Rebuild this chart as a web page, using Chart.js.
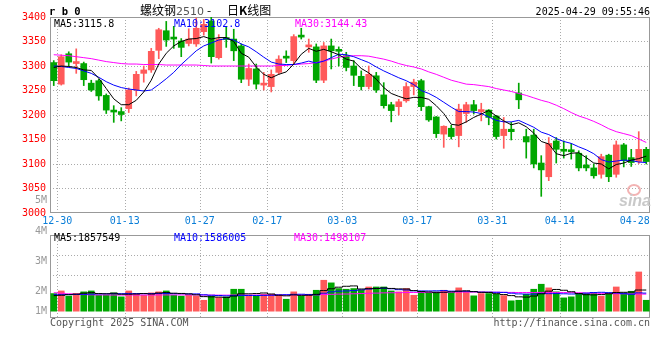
<!DOCTYPE html>
<html>
<head>
<meta charset="utf-8">
<title>螺纹钢2510 日K线图</title>
<script src="https://cdn.jsdelivr.net/npm/chart.js@4.4.1/dist/chart.umd.min.js"></script>
<style>
  body { margin: 0; background: #fff; }
  #wrap { position: relative; width: 660px; height: 360px; overflow: hidden; font-family: "DejaVu Sans Mono", monospace; font-size: 10px; color: #000; }
  canvas { position: absolute; left: 0; top: 0; }
  .t { position: absolute; white-space: pre; line-height: 12px; }
  .cjk { font-family: "Noto Sans CJK SC", sans-serif; font-size: 12px; line-height: 14px; }
  .gray { color: #999; }
</style>
</head>
<body>
<div id="wrap">
  <canvas id="volChart" width="660" height="360"></canvas>
  <canvas id="klineChart" width="660" height="360"></canvas>

  <!-- header -->
  <div class="t" style="left:49px;top:5px;font-weight:bold;font-size:10.5px;">r b 0</div>
  <div class="t cjk" style="left:140px;top:3px;">螺纹钢<span style="font-family:'DejaVu Sans';font-size:11px;color:#555;">2510</span></div>
  <div class="t cjk" style="left:207px;top:3px;">-</div>
  <div class="t cjk" style="left:227px;top:3px;">日<b>K</b>线图</div>
  <div class="t" style="right:10px;top:6px;">2025-04-29 09:55:46</div>

  <!-- price legend -->
  <div class="t" style="left:54px;top:18px;">MA5:3115.8</div>
  <div class="t" style="left:174px;top:18px;color:#0000ff;">MA10:3102.8</div>
  <div class="t" style="left:295px;top:18px;color:#ff00ff;">MA30:3144.43</div>

  <!-- volume legend -->
  <div class="t" style="left:54px;top:232px;">MA5:1857549</div>
  <div class="t" style="left:174px;top:232px;color:#0000ff;">MA10:1586005</div>
  <div class="t" style="left:294px;top:232px;color:#ff00ff;">MA30:1498107</div>

  <!-- volume axis labels -->
  <div class="t gray" style="right:613px;top:194px;">5M</div>
  <div class="t gray" style="right:613px;top:225px;">4M</div>
  <div class="t gray" style="right:613px;top:255px;">3M</div>
  <div class="t gray" style="right:613px;top:285px;">2M</div>
  <div class="t gray" style="right:613px;top:305px;">1M</div>

  <!-- footer -->
  <div class="t" style="left:50px;top:317px;color:#555;">Copyright 2025 SINA.COM</div>
  <div class="t" style="right:10px;top:317px;color:#555;">http://finance.sina.com.cn</div>

  <!-- sina watermark -->
  <div style="position:absolute;left:627px;top:184px;width:10px;height:8px;border:2px solid #f3b3b3;border-radius:50%;"></div>
  <div class="t" style="left:619px;top:193px;font-family:'Liberation Sans';font-style:italic;font-weight:bold;font-size:16px;line-height:16px;color:#c9c9c9;">sina</div>
</div>

<script>
// trading days on the chart
const dates = ['12-27','12-30','12-31','01-02','01-03','01-06','01-07','01-08','01-09','01-10',
    '01-13','01-14','01-15','01-16','01-17','01-20','01-21','01-22','01-23','01-24',
    '01-27','02-05','02-06','02-07','02-10','02-11','02-12','02-13','02-14','02-17',
    '02-18','02-19','02-20','02-21','02-24','02-25','02-26','02-27','02-28','03-03',
    '03-04','03-05','03-06','03-07','03-10','03-11','03-12','03-13','03-14','03-17',
    '03-18','03-19','03-20','03-21','03-24','03-25','03-26','03-27','03-28','03-31',
    '04-01','04-02','04-03','04-07','04-08','04-09','04-10','04-11','04-14','04-15',
    '04-16','04-17','04-18','04-21','04-22','04-23','04-24','04-25','04-28','04-29'];

// dates that get a label on the x axis, and the ones that get a grid line
const labelDates = ['12-30','01-13','01-27','02-17','03-03','03-17','03-31','04-14','04-28'];
const gridDates = ['12-30','01-13','01-27','02-17','03-03','03-17','03-31','04-14'];

// daily candles
const opens = [3307,3263,3325,3305,3305,3265,3270,3240,3208,3207,
    3213,3251,3285,3292,3332,3372,3357,3351,3346,3345,
    3370,3392,3317,3356,3355,3341,3273,3294,3261,3258,
    3287,3318,3311,3361,3339,3339,3271,3341,3332,3321,
    3300,3279,3258,3280,3241,3221,3217,3229,3258,3270,
    3217,3196,3161,3173,3158,3203,3221,3207,3210,3198,
    3158,3171,3245,3156,3159,3102,3074,3147,3130,3128,
    3122,3098,3092,3079,3118,3079,3139,3113,3105,3130];
const highs = [3311,3323,3329,3335,3308,3271,3273,3243,3219,3215,
    3255,3289,3300,3336,3377,3391,3381,3356,3376,3398,
    3395,3400,3364,3379,3375,3345,3304,3304,3287,3292,
    3321,3331,3364,3377,3355,3345,3348,3355,3339,3328,
    3311,3290,3300,3287,3266,3226,3232,3266,3273,3273,
    3218,3197,3178,3179,3222,3226,3230,3224,3211,3199,
    3195,3185,3265,3171,3171,3117,3154,3154,3147,3142,
    3127,3117,3100,3120,3120,3147,3142,3130,3166,3134];
const lows = [3260,3261,3300,3285,3260,3248,3230,3203,3185,3188,
    3205,3239,3267,3287,3315,3340,3336,3319,3341,3340,
    3363,3306,3314,3338,3311,3266,3260,3253,3251,3247,
    3283,3307,3304,3355,3328,3266,3266,3294,3300,3290,
    3260,3251,3253,3246,3214,3186,3200,3226,3241,3209,
    3187,3154,3134,3151,3135,3185,3202,3188,3180,3151,
    3132,3149,3213,3112,3092,3034,3066,3102,3112,3110,
    3086,3086,3071,3071,3064,3073,3094,3095,3101,3100];
const closes = [3270,3319,3308,3307,3272,3251,3239,3210,3206,3201,
    3251,3283,3292,3330,3374,3353,3355,3338,3355,3377,
    3385,3319,3355,3354,3331,3273,3295,3263,3262,3283,
    3314,3316,3360,3359,3341,3271,3341,3331,3330,3297,
    3281,3258,3283,3251,3219,3209,3227,3258,3267,3217,
    3190,3162,3177,3156,3212,3221,3209,3211,3195,3156,
    3171,3166,3231,3145,3100,3088,3142,3130,3126,3125,
    3092,3092,3076,3115,3074,3139,3107,3103,3130,3105];

// moving averages of the close
const ma5 = [3297,3300,3299,3297,3292,3291,3275,3254,3233,3221,
    3221,3230,3247,3271,3304,3326,3341,3350,3355,3356,
    3360,3355,3358,3358,3350,3326,3318,3298,3283,3276,
    3283,3288,3304,3324,3336,3330,3334,3329,3323,3314,
    3310,3295,3286,3273,3256,3244,3238,3233,3236,3236,
    3232,3219,3203,3181,3179,3186,3195,3202,3209,3198,
    3188,3180,3184,3176,3163,3146,3141,3121,3117,3122,
    3123,3113,3102,3100,3090,3099,3102,3108,3111,3116];
const ma10 = [3300,3299,3297,3295,3290,3285,3277,3268,3261,3256,
    3253,3251,3249,3251,3262,3274,3287,3303,3317,3331,
    3341,3347,3353,3356,3353,3345,3339,3329,3318,3308,
    3304,3303,3303,3306,3310,3306,3310,3317,3324,3323,
    3319,3313,3307,3298,3290,3283,3276,3270,3262,3250,
    3244,3236,3226,3216,3207,3207,3206,3203,3196,3189,
    3186,3186,3189,3182,3175,3165,3160,3152,3146,3142,
    3135,3129,3121,3109,3104,3106,3108,3107,3104,3103];
const ma30 = [3323,3322,3321,3319,3317,3315,3312,3309,3307,3305,
    3304,3304,3303,3303,3303,3302,3302,3302,3302,3302,
    3301,3300,3300,3300,3300,3300,3300,3300,3300,3300,
    3301,3301,3303,3304,3305,3307,3310,3314,3318,3320,
    3321,3321,3320,3317,3314,3310,3305,3301,3298,3294,
    3288,3283,3277,3271,3267,3263,3262,3260,3258,3254,
    3251,3248,3244,3240,3235,3230,3226,3220,3213,3205,
    3198,3193,3187,3180,3172,3166,3162,3158,3151,3144];

// volume in millions of lots
const volumes = [1.55,1.78,1.32,1.55,1.70,1.78,1.40,1.40,1.61,1.26,
    1.78,1.49,1.40,1.61,1.70,1.78,1.40,1.32,1.40,1.32,
    0.96,1.32,1.20,1.26,1.93,1.93,1.32,1.32,1.49,1.49,
    1.40,1.05,1.70,1.32,1.49,1.84,2.72,2.49,1.99,1.93,
    1.99,1.84,2.13,2.13,2.13,1.78,1.70,1.99,1.40,1.75,
    1.61,1.70,1.84,1.61,2.05,1.75,1.35,1.55,1.55,1.49,
    1.37,0.91,0.96,1.49,1.93,2.37,2.05,1.70,1.17,1.26,
    1.55,1.55,1.61,1.32,1.61,2.13,1.61,1.75,3.45,0.96];
const volMa5 = [1.37,1.40,1.45,1.50,1.58,1.63,1.55,1.53,1.58,1.49,
    1.49,1.51,1.55,1.51,1.60,1.64,1.58,1.56,1.52,1.44,
    1.28,1.26,1.24,1.21,1.33,1.53,1.53,1.55,1.60,1.51,
    1.40,1.35,1.43,1.39,1.40,1.48,1.81,1.97,2.11,2.19,
    2.22,1.95,1.98,2.00,2.04,2.00,1.96,1.95,1.81,1.72,
    1.69,1.63,1.66,1.70,1.76,1.79,1.72,1.66,1.65,1.54,
    1.46,1.37,1.26,1.24,1.33,1.53,1.76,1.91,1.84,1.71,
    1.55,1.45,1.43,1.46,1.53,1.64,1.66,1.68,1.86,1.86];
const volMa10 = [1.45,1.45,1.46,1.47,1.48,1.50,1.52,1.53,1.54,1.54,
    1.56,1.55,1.54,1.55,1.55,1.56,1.54,1.54,1.52,1.52,
    1.44,1.40,1.38,1.35,1.37,1.39,1.38,1.38,1.39,1.40,
    1.44,1.45,1.48,1.49,1.46,1.45,1.58,1.70,1.76,1.78,
    1.81,1.88,1.95,2.00,2.02,1.97,1.89,1.86,1.79,1.78,
    1.78,1.79,1.81,1.76,1.75,1.75,1.72,1.67,1.67,1.66,
    1.65,1.58,1.52,1.50,1.50,1.56,1.54,1.55,1.53,1.51,
    1.53,1.59,1.64,1.66,1.63,1.60,1.54,1.49,1.61,1.59];
const volMa30 = [1.62,1.58,1.53,1.49,1.46,1.44,1.43,1.43,1.42,1.42,
    1.42,1.42,1.42,1.42,1.43,1.43,1.43,1.43,1.43,1.43,
    1.42,1.42,1.41,1.41,1.42,1.42,1.42,1.42,1.42,1.42,
    1.42,1.42,1.43,1.43,1.43,1.44,1.46,1.48,1.50,1.51,
    1.53,1.55,1.57,1.59,1.61,1.62,1.63,1.64,1.64,1.65,
    1.66,1.66,1.67,1.67,1.68,1.68,1.68,1.68,1.67,1.67,
    1.66,1.65,1.64,1.64,1.64,1.65,1.65,1.65,1.64,1.63,
    1.62,1.60,1.58,1.57,1.55,1.54,1.53,1.52,1.51,1.50];

// axis ranges and tick values
const priceMin = 3000;
const priceMax = 3400;
const priceStep = 50;
const volMin = -0.6;
const volMax = 6.7;
const volGridTicks = [3.18, 4.94];

const upColor = '#ff5a5a';
const downColor = '#00a600';
const gridColor = '#aaaaaa';
const monoFont = { family: 'DejaVu Sans Mono', size: 10 };

// red when the day closed up, green when it closed down
const candleColors = dates.map((d, i) => closes[i] >= opens[i] ? upColor : downColor);

// draws the grey box round a plot area
const framePlugin = {
    id: 'frame',
    beforeDatasetsDraw(chart) {
        const a = chart.chartArea;
        const ctx = chart.ctx;
        ctx.save();
        ctx.strokeStyle = '#999999';
        ctx.lineWidth = 1;
        ctx.strokeRect(Math.round(a.left) + 0.5, Math.round(a.top) + 0.5,
            Math.round(a.right - a.left) - 1, Math.round(a.bottom - a.top) - 1);
        ctx.restore();
    }
};

// shared x axis: one category per trading day
function dateAxis(showLabels, height) {
    return {
        type: 'category',
        offset: true,
        grid: {
            offset: true,
            drawTicks: false,
            color: ctx => (ctx.index !== undefined && gridDates.includes(dates[ctx.index])) ? gridColor : 'rgba(0,0,0,0)'
        },
        border: { display: false, dash: [1, 2] },
        ticks: {
            display: showLabels,
            autoSkip: false,
            maxRotation: 0,
            minRotation: 0,
            color: '#0a7ed8',
            font: monoFont,
            padding: 2,
            labelOffset: -4,
            callback: (value, index) => labelDates.includes(dates[index]) ? dates[index] : ''
        },
        afterFit: scale => { scale.height = height; }
    };
}

function lineDataset(data, color, stepped) {
    return {
        type: 'line',
        data: data,
        borderColor: color,
        borderWidth: 1,
        pointRadius: 0,
        tension: 0,
        stepped: stepped,
        order: 0
    };
}

function renderKline() {
    const ctx = document.getElementById('klineChart').getContext('2d');
    new Chart(ctx, {
        type: 'bar',
        data: {
            labels: dates,
            datasets: [
                lineDataset(ma5, '#000000', false),
                lineDataset(ma10, '#0000ff', false),
                lineDataset(ma30, '#ff00ff', false),
                {
                    // candle bodies, open to close
                    data: dates.map((d, i) => [opens[i], closes[i]]),
                    backgroundColor: candleColors,
                    barThickness: 6,
                    minBarLength: 2,
                    grouped: false,
                    order: 1
                },
                {
                    // wicks, low to high
                    data: dates.map((d, i) => [lows[i], highs[i]]),
                    backgroundColor: candleColors,
                    barThickness: 1,
                    grouped: false,
                    order: 2
                }
            ]
        },
        options: {
            responsive: false,
            animation: false,
            layout: { padding: { top: 17, right: 10, bottom: 127, left: 0 } },
            plugins: { legend: { display: false }, tooltip: { enabled: false } },
            scales: {
                x: dateAxis(true, 20),
                y: {
                    type: 'linear',
                    min: priceMin,
                    max: priceMax,
                    grid: {
                        drawTicks: false,
                        color: ctx => (ctx.tick && (ctx.tick.value === priceMin || ctx.tick.value === priceMax)) ? 'rgba(0,0,0,0)' : gridColor
                    },
                    border: { display: false, dash: [1, 2] },
                    ticks: {
                        stepSize: priceStep,
                        color: '#ff0000',
                        font: monoFont,
                        padding: 4,
                        callback: value => String(value) // plain numbers, no thousands separator
                    },
                    afterFit: scale => { scale.width = 50; }
                }
            }
        },
        plugins: [framePlugin]
    });
}

function renderVolume() {
    const ctx = document.getElementById('volChart').getContext('2d');
    new Chart(ctx, {
        type: 'bar',
        data: {
            labels: dates,
            datasets: [
                lineDataset(volMa5, '#000000', 'middle'),
                lineDataset(volMa10, '#0000ff', 'middle'),
                lineDataset(volMa30, '#ff00ff', 'middle'),
                {
                    data: volumes,
                    backgroundColor: candleColors,
                    barThickness: 6,
                    order: 1
                }
            ]
        },
        options: {
            responsive: false,
            animation: false,
            layout: { padding: { top: 235, right: 10, bottom: 42, left: 0 } },
            plugins: { legend: { display: false }, tooltip: { enabled: false } },
            scales: {
                x: dateAxis(false, 0),
                y: {
                    type: 'linear',
                    min: volMin,
                    max: volMax,
                    grid: { drawTicks: false, color: gridColor },
                    border: { display: false, dash: [1, 2] },
                    ticks: { display: false },
                    afterBuildTicks: scale => { scale.ticks = volGridTicks.map(v => ({ value: v })); },
                    afterFit: scale => { scale.width = 50; }
                }
            }
        },
        plugins: [framePlugin]
    });
}

renderVolume();
renderKline();
</script>
</body>
</html>
